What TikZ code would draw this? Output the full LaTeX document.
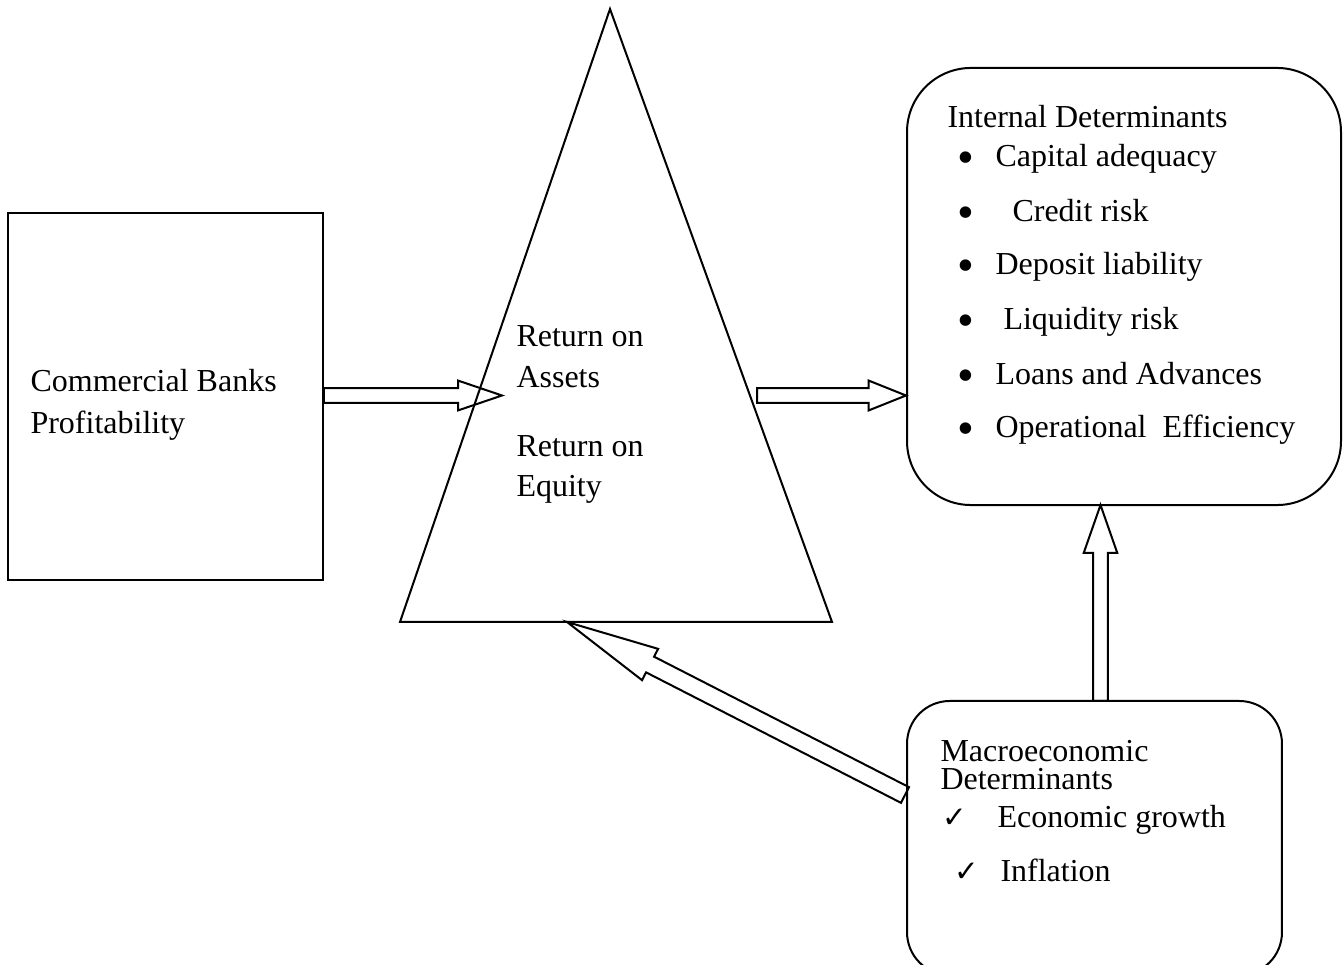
\documentclass[tikz,border=0pt]{standalone}
\usepackage{fontspec}
\setmainfont{Liberation Serif}
\newfontfamily\symfont{DejaVu Sans}
\usetikzlibrary{calc}
\tikzset{
  lw/.style={line width=0.75pt},
  txt/.style={anchor=base west, inner sep=0pt, font=\fontsize{12}{14}\selectfont},
  bul/.style={anchor=base west, inner sep=0pt, font=\fontsize{18}{18}\selectfont},
  chk/.style={anchor=base west, inner sep=0pt, font=\symfont\fontsize{11}{12}\selectfont},
  boxline/.style={draw, lw, inner sep=0pt},
}
% block arrow from #1 to #2 ; shaft half-width #3, head half-width #4, head length #5
\newcommand\blockarrow[5]{%
  \draw[lw, line join=miter]
    ($(#1)!#3!90:(#2)$) --
    ($($(#2)!#5!(#1)$)!#3!90:(#2)$) --
    ($($(#2)!#5!(#1)$)!#4!90:(#2)$) --
    (#2) --
    ($($(#2)!#5!(#1)$)!#4!-90:(#2)$) --
    ($($(#2)!#5!(#1)$)!#3!-90:(#2)$) --
    ($(#1)!#3!-90:(#2)$) -- cycle;}
\begin{document}
\begin{tikzpicture}[x=0.375pt, y=-0.375pt]
\useasboundingbox (0,0) rectangle (1344,965);
\begin{scope}
\clip (0,0) rectangle (1344,965);
% left box
\node[boxline, minimum width=118.1pt, minimum height=137.6pt] (cbp) at (165.5,396.5) {};
% triangle
\coordinate (apex) at (610,9);
\coordinate (tbl) at (400,622);
\coordinate (tbr) at (832,622);
\draw[lw, line join=miter] (apex) -- (tbl) -- (tbr) -- cycle;
% internal box
\node[boxline, rounded corners=24pt, minimum width=162.75pt, minimum height=163.9pt] (int) at (1124,286.5) {};
% macro box
\node[boxline, rounded corners=16pt, minimum width=140.6pt, minimum height=102.75pt] (mac) at (1094.5,838) {};
\end{scope}
% texts
\node[txt] (t1) at (30,392) {Commercial Banks};
\node[txt] (t2) at (30,434) {Profitability};
\node[txt] (r1) at (516,347) {Return on};
\node[txt] (r2) at (516,388) {Assets};
\node[txt] (r3) at (516,457) {Return on};
\node[txt] (r4) at (516,497) {Equity};
\node[txt] (i0) at (947,128) {Internal Determinants};
\foreach \y/\xx/\t [count=\k] in {167/995/Capital adequacy, 222/1012/Credit risk, 275/995/Deposit liability, 330/1003/Liquidity risk, 385/995/Loans and Advances, 438/995/Operational\ \ Efficiency}{
  \node[bul] (ib\k) at (957,\y+7) {\textbullet};
  \node[txt] (it\k) at (\xx,\y) {\t};
}
\node[txt] (m0) at (940,762) {Macroeconomic};
\node[txt] (m1) at (940,790) {Determinants};
\node[chk] (mc1) at (942,828) {✓};
\node[txt] (mt1) at (997,828) {Economic growth};
\node[chk] (mc2) at (954,882) {✓};
\node[txt] (mt2) at (1000,882) {Inflation};
% arrow anchors
\coordinate (a1s) at (cbp.east |- 0,395.5);
\coordinate (a1e) at (502,395.5);
\coordinate (a2s) at (757,395.5);
\coordinate (a2e) at (int.west |- 0,395.5);
\coordinate (a3s) at (1100.5,701);
\coordinate (a3e) at (1100.5,505);
\coordinate (a4s) at (905,795);
\coordinate (a4e) at (567,622);
\blockarrow{a1s}{a1e}{2.8pt}{5.6pt}{16.5pt}
\blockarrow{a2s}{a2e}{2.8pt}{5.6pt}{14pt}
\blockarrow{a3s}{a3e}{2.8pt}{6.3pt}{18pt}
\blockarrow{a4s}{a4e}{3.3pt}{6.6pt}{35pt}
\end{tikzpicture}
\end{document}
